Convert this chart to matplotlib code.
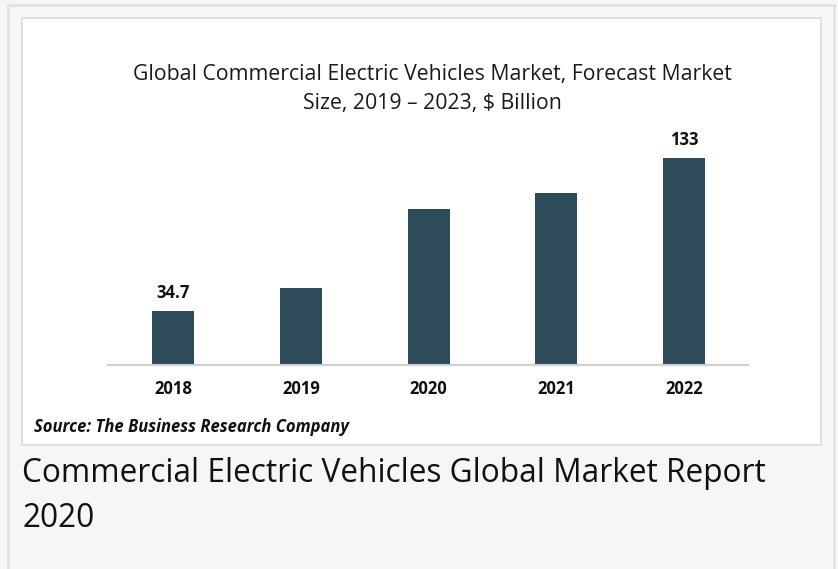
import matplotlib.pyplot as plt
from matplotlib.patches import Rectangle

# data
years = ['2018', '2019', '2020', '2021', '2022']
values = [34.7, 49.5, 100.3, 110.5, 133]
labels = {0: '34.7', 4: '133'}   # only first and last bars are labelled

title = 'Global Commercial Electric Vehicles Market, Forecast Market\nSize, 2019 \u2013 2023, $ Billion'
source = 'Source: The Business Research Company'
caption = 'Commercial Electric Vehicles Global Market Report\n2020'

W, H = 838, 569
fig = plt.figure(figsize=(W / 100, H / 100), dpi=100)
fig.patch.set_facecolor('#f6f6f6')

def px(x0, y0, x1, y1):
    # pixel box (top-left origin) -> figure fraction rect
    return [x0 / W, 1 - y1 / H, (x1 - x0) / W, (y1 - y0) / H]

# outer border lines
bg = fig.add_axes([0, 0, 1, 1])
bg.set_xlim(0, W)
bg.set_ylim(H, 0)
bg.axis('off')
bg.plot([8, 8], [5, H], color='#e2e2e2', lw=2)
bg.plot([8, 834], [5, 5], color='#e2e2e2', lw=2)
bg.plot([834, 834], [5, H], color='#e2e2e2', lw=2)
# white chart box
bg.add_patch(Rectangle((22, 18), 799, 427, facecolor='white', edgecolor='#dcdcdc', lw=1.2))

fig.text(432 / W, 1 - 89 / H, title, ha='center', va='center', fontsize=15.3,
         family='Open Sans', color='#1a1a1a', linespacing=1.55)
fig.text(34 / W, 1 - 427 / H, source, ha='left', va='center', fontsize=12,
         family='Open Sans', weight='bold', style='italic', color='#111111')
fig.text(22 / W, 1 - 496 / H, caption, ha='left', va='center', fontsize=22.8,
         family='Open Sans', color='#111111', linespacing=1.5)

# bar chart axes
ax = fig.add_axes(px(108, 131.6, 748, 365))
ax.patch.set_alpha(0)
x = range(len(years))
bars = ax.bar(x, values, width=0.33, color='#2e4b5a')
ax.set_xlim(-0.51, 4.5)
ax.set_ylim(0, 150)
for s in ['top', 'right', 'left']:
    ax.spines[s].set_visible(False)
ax.spines['bottom'].set_color('#d0d0d0')
ax.spines['bottom'].set_linewidth(1.5)
ax.set_yticks([])
ax.set_xticks(list(x))
ax.set_xticklabels(years, fontsize=12, weight='bold', family='Open Sans', color='#111111')
ax.tick_params(axis='x', length=0, pad=11)
for i, t in labels.items():
    ax.text(i, values[i] + 5.5, t, ha='center', va='bottom', fontsize=12,
            weight='bold', family='Open Sans', color='#111111')

fig.savefig('out.png', dpi=100, facecolor=fig.get_facecolor())
